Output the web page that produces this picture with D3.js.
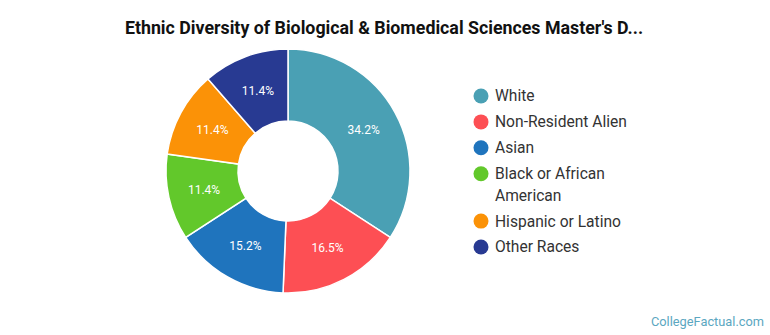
<!DOCTYPE html>
<html>
<head>
<meta charset="utf-8">
<script src="https://cdn.jsdelivr.net/npm/d3@7"></script>
<style>
  body { margin: 0; background: #fff; }
  svg { display: block; font-family: Roboto, "Noto Sans", sans-serif; }
</style>
</head>
<body>
<div id="chart"></div>
<script>
(function () {
// chart values
var categories = ["White", "Non-Resident Alien", "Asian", "Black or African American", "Hispanic or Latino", "Other Races"];
var values = [34.2, 16.5, 15.2, 11.4, 11.4, 11.4];
var colors = ["#4aa0b4", "#fd4f54", "#1f74bd", "#62c82b", "#fb9207", "#283a92"];
var legendLines = [["White"], ["Non-Resident Alien"], ["Asian"], ["Black or African", "American"], ["Hispanic or Latino"], ["Other Races"]];

var width = 770, height = 335;
var cx = 288, cy = 171, outerR = 122, innerR = 50;

var svg = d3.select("#chart").append("svg")
    .attr("width", width)
    .attr("height", height);

svg.append("text")
    .attr("x", 384)
    .attr("y", 34)
    .attr("text-anchor", "middle")
    .style("font-size", "17.8px")
    .style("font-weight", "bold")
    .attr("fill", "#111")
    .text("Ethnic Diversity of Biological & Biomedical Sciences Master's D...");

var pie = d3.pie().sort(null).value(function(d) { return d; });
var arc = d3.arc().innerRadius(innerR).outerRadius(outerR);
var labelArc = d3.arc().innerRadius((innerR + outerR) / 2).outerRadius((innerR + outerR) / 2);

var g = svg.append("g").attr("transform", "translate(" + cx + "," + cy + ")");

var slices = g.selectAll(".slice").data(pie(values)).enter();

slices.append("path")
    .attr("class", "slice")
    .attr("d", arc)
    .attr("fill", function(d, i) { return colors[i]; })
    .attr("stroke", "#fff")
    .attr("stroke-width", 1.5);

slices.append("text")
    .attr("transform", function(d) { return "translate(" + labelArc.centroid(d) + ")"; })
    .attr("text-anchor", "middle")
    .attr("dy", "0.35em")
    .attr("fill", "#fff")
    .style("font-size", "12px")
    .text(function(d) { return d.data.toFixed(1) + "%"; });

// legend
var legend = svg.append("g");
var y = 96;
legendLines.forEach(function(lines, i) {
  legend.append("circle")
      .attr("cx", 481)
      .attr("cy", y)
      .attr("r", 7.5)
      .attr("fill", colors[i]);
  var t = legend.append("text")
      .attr("x", 495)
      .attr("y", y)
      .style("font-size", "15.6px")
      .attr("fill", "#333");
  lines.forEach(function(line, j) {
    t.append("tspan").attr("x", 495).attr("dy", j === 0 ? "0.35em" : "21.5px").text(line);
  });
  y += 25.9 + (lines.length - 1) * 21.5;
});

svg.append("text")
    .attr("x", 764)
    .attr("y", 326)
    .attr("text-anchor", "end")
    .style("font-size", "12.8px")
    .attr("fill", "#5ba7c1")
    .text("CollegeFactual.com");
})();
</script>
</body>
</html>
